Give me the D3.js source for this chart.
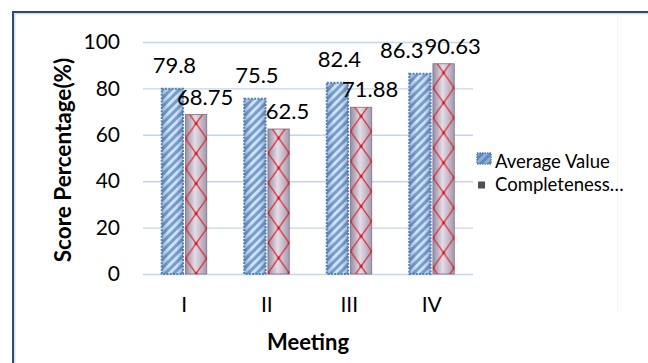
<!DOCTYPE html>
<html>
<head>
<meta charset="utf-8">
<script src="https://cdn.jsdelivr.net/npm/d3@7"></script>
<style>
  html, body { margin: 0; padding: 0; background: #fff; }
  svg { display: block; }
  text { font-family: Lato, "Noto Sans", sans-serif; fill: #000; }
</style>
</head>
<body>
<svg id="chart" width="648" height="363"></svg>
<script>
// Scores per meeting
const categories = ["I", "II", "III", "IV"];
const seriesNames = ["Average Value", "Completeness…"];
const averageValue = [79.8, 75.5, 82.4, 86.3];
const completeness = [68.75, 62.5, 71.88, 90.63];
const yTicks = [0, 20, 40, 60, 80, 100];

const W = 648, H = 363;
const plot = { left: 143, right: 473, top: 42, bottom: 274 };

const svg = d3.select("#chart");
const defs = svg.append("defs");

// outer frame (runs off the right and bottom edges)
svg.append("path").attr("d", `M13,${H + 10} L13,12 L${W + 10},12`)
  .attr("fill", "none").attr("stroke", "#2c4a74").attr("stroke-width", 2);
svg.append("path").attr("d", `M14.8,${H + 10} L14.8,13.8 L${W + 10},13.8`)
  .attr("fill", "none").attr("stroke", "#b4c4dc").attr("stroke-width", 0.8);
// faint chart-area edge
svg.append("line").attr("x1", 617.5).attr("x2", 617.5).attr("y1", 14).attr("y2", 313)
  .attr("stroke", "#f6f6f6").attr("stroke-width", 1);

const x0 = d3.scaleBand().domain(categories).range([plot.left, plot.right])
  .paddingInner(0.4545).paddingOuter(0.2273);
const x1 = d3.scaleBand().domain(seriesNames).range([0, x0.bandwidth()]).paddingInner(0.1);
const y = d3.scaleLinear().domain([0, 100]).range([plot.bottom, plot.top]);

// gridlines
const grid = svg.append("g").attr("transform", `translate(${plot.left},0)`)
  .call(d3.axisLeft(y).tickValues(yTicks).tickSize(-(plot.right - plot.left)).tickFormat(""));
grid.select(".domain").remove();
grid.selectAll(".tick line").attr("stroke", "#c3d6ee").attr("stroke-width", 1.4);

// y tick labels
const yAxis = svg.append("g").attr("transform", `translate(${plot.left},0)`)
  .call(d3.axisLeft(y).tickValues(yTicks).tickSize(0).tickPadding(23));
yAxis.select(".domain").remove();
yAxis.selectAll("text").attr("font-size", 21).attr("font-family", "Lato, sans-serif").attr("fill", "#000");

// x tick labels
const xAxis = svg.append("g").attr("transform", `translate(0,${plot.bottom})`)
  .call(d3.axisBottom(x0).tickSize(0).tickPadding(23));
xAxis.select(".domain").remove();
xAxis.selectAll("text").attr("font-size", 21).attr("font-family", "Lato, sans-serif").attr("fill", "#000");

// axis titles
svg.append("text").attr("transform", `translate(71,${(plot.top + plot.bottom) / 2 + 2}) rotate(-90)`)
  .attr("text-anchor", "middle").attr("font-size", 22.5).attr("font-weight", 700)
  .text("Score Percentage(%)");
svg.append("text").attr("x", (plot.left + plot.right) / 2).attr("y", 350)
  .attr("text-anchor", "middle").attr("font-size", 22).attr("font-weight", 700)
  .text("Meeting");

// shading gradients
const blueShade = defs.append("linearGradient").attr("id", "blueShade");
[[0, "#1e3f6e", 0.3], [0.35, "#1e3f6e", 0], [0.7, "#1e3f6e", 0.03], [1, "#1e3f6e", 0.3]]
  .forEach(([o, c, a]) => blueShade.append("stop").attr("offset", o).attr("stop-color", c).attr("stop-opacity", a));
const redShade = defs.append("linearGradient").attr("id", "redShade");
[[0, "#978da2"], [0.45, "#e2dce6"], [1, "#a49aae"]]
  .forEach(([o, c]) => redShade.append("stop").attr("offset", o).attr("stop-color", c));

const bw = x1.bandwidth();

categories.forEach((cat, i) => {
  const bx = x0(cat) + x1(seriesNames[0]);
  const rx = x0(cat) + x1(seriesNames[1]);

  // blue diagonal stripe pattern
  const bp = defs.append("pattern").attr("id", `stripe${i}`).attr("patternUnits", "userSpaceOnUse")
    .attr("x", bx).attr("y", 0).attr("width", 6).attr("height", 6)
    .attr("patternTransform", "rotate(45)");
  bp.append("rect").attr("width", 6).attr("height", 6).attr("fill", "#74a0d3");
  bp.append("rect").attr("width", 2.8).attr("height", 6).attr("fill", "#d8e6f5");

  // red lattice pattern
  const th = 30;
  const rp = defs.append("pattern").attr("id", `lattice${i}`).attr("patternUnits", "userSpaceOnUse")
    .attr("x", rx).attr("y", y(completeness[i]) - 6).attr("width", bw).attr("height", th);
  rp.append("path").attr("d", `M0,0 L${bw},${th} M${bw},0 L0,${th}`)
    .attr("stroke", "#e3202a").attr("stroke-width", 1.2).attr("fill", "none");
  [[bw / 2, th / 2], [0, 0], [bw, 0], [0, th], [bw, th]].forEach(([cx, cy]) =>
    rp.append("circle").attr("cx", cx).attr("cy", cy).attr("r", 1.6).attr("fill", "#d8121c"));
});

const bars = svg.append("g");
categories.forEach((cat, i) => {
  const bx = x0(cat) + x1(seriesNames[0]);
  const rx = x0(cat) + x1(seriesNames[1]);
  const by = y(averageValue[i]), ry = y(completeness[i]);

  bars.append("rect").attr("x", bx).attr("y", by).attr("width", bw).attr("height", y(0) - by)
    .attr("fill", `url(#stripe${i})`);
  bars.append("rect").attr("x", bx).attr("y", by).attr("width", bw).attr("height", y(0) - by)
    .attr("fill", "url(#blueShade)");
  bars.append("rect").attr("x", bx).attr("y", by).attr("width", bw).attr("height", y(0) - by)
    .attr("fill", "none").attr("stroke", "#4f81bd").attr("stroke-width", 2)
    .attr("stroke-dasharray", "2,1.3");

  bars.append("rect").attr("x", rx).attr("y", ry).attr("width", bw).attr("height", y(0) - ry)
    .attr("fill", "url(#redShade)").attr("stroke", "#7c7284").attr("stroke-width", 0.8);
  bars.append("rect").attr("x", rx).attr("y", ry).attr("width", bw).attr("height", y(0) - ry)
    .attr("fill", `url(#lattice${i})`);
});

// value labels
const labels = svg.append("g").attr("font-size", 22);
categories.forEach((cat, i) => {
  const bc = x0(cat) + x1(seriesNames[0]) + bw / 2;
  const rc = x0(cat) + x1(seriesNames[1]) + bw / 2;
  const rt = labels.append("text").attr("x", rc + 9).attr("y", y(completeness[i]) - 10)
    .attr("text-anchor", "middle").text(String(completeness[i]));
  const bt = labels.append("text").attr("x", bc + 2).attr("y", y(averageValue[i]) - 16)
    .attr("text-anchor", "middle").text(String(averageValue[i]));
  // nudge the blue label left when it collides with its neighbour
  const a = bt.node().getBBox(), b = rt.node().getBBox();
  const overlapY = a.y < b.y + b.height && b.y < a.y + a.height;
  if (overlapY && a.x + a.width > b.x - 1) {
    bt.attr("x", bc + 2 - (a.x + a.width - (b.x - 1)));
  }
});

// legend
const legend = svg.append("g").attr("transform", "translate(477,153)");
legend.append("rect").attr("width", 14).attr("height", 11).attr("fill", "url(#stripe0)");
legend.append("rect").attr("width", 14).attr("height", 11).attr("fill", "#3f6ea8").attr("opacity", 0.45);
legend.append("rect").attr("width", 14).attr("height", 11).attr("fill", "none")
  .attr("stroke", "#4f81bd").attr("stroke-width", 1.5).attr("stroke-dasharray", "1.5,1");
legend.append("text").attr("x", 18).attr("y", 15).attr("font-size", 18.5).text(seriesNames[0]);
legend.append("rect").attr("x", 1).attr("y", 28.5).attr("width", 7).attr("height", 7).attr("fill", "#505050");
legend.append("text").attr("x", 18).attr("y", 37.5).attr("font-size", 18.5).text(seriesNames[1]);
</script>
</body>
</html>
